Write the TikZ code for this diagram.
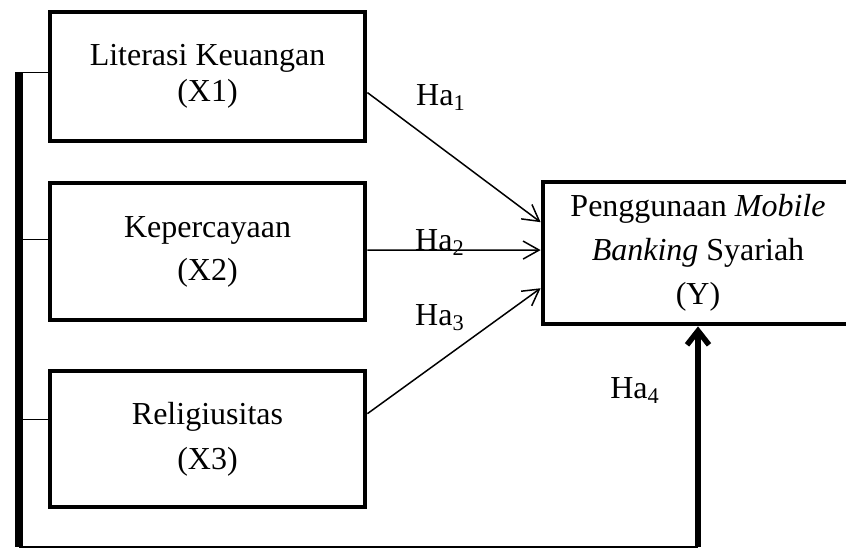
\documentclass[tikz,border=0pt]{standalone}
\usepackage{fontspec}
\setmainfont{Liberation Serif}
\usetikzlibrary{arrows.meta,calc}

\begin{document}
\begin{tikzpicture}[x=0.5pt,y=-0.5pt,
    hyp/.style={line width=0.75pt,-{Straight Barb[length=8pt,width=9pt]}}]
  \useasboundingbox (0,0) rectangle (846,548);

      \begin{scope}[every node/.style={draw,line width=2.4pt,align=center,inner sep=0pt}]
        \node[minimum width=157.5pt,minimum height=64.5pt,font=\fontsize{16}{18}\selectfont]
          (x1) at (207.5,76.5) {Literasi Keuangan\\(X1)};
        \node[minimum width=157.5pt,minimum height=68.5pt,font=\fontsize{16}{21.5}\selectfont]
          (x2) at (207.5,251.5) {Kepercayaan\\(X2)};
        \node[minimum width=157.5pt,minimum height=68pt,font=\fontsize{16}{22.5}\selectfont]
          (x3) at (207.5,439) {Religiusitas\\(X3)};
        \node[minimum width=155pt,minimum height=71pt,font=\fontsize{16}{22}\selectfont]
          (y) at (698,253) {Penggunaan \textit{Mobile}\\\textit{Banking} Syariah\\(Y)};
      \end{scope}

      \begin{scope}[every node/.style={anchor=base,font=\fontsize{16}{18}\selectfont}]
        \node (ha1) at (441,105) {Ha\textsubscript{1}};
        \node (ha2) at (440,250) {Ha\textsubscript{2}};
        \node (ha3) at (440,325) {Ha\textsubscript{3}};
        \node (ha4) at (635,398) {Ha\textsubscript{4}};
      \end{scope}

      \coordinate (b1) at (19,72);
      \coordinate (b2) at (19,239);
      \coordinate (b3) at (19,419);
      \coordinate (bot) at (19,547);

      % left bus
      \draw[line width=4pt] (b1) -- (bot);
      \draw[line width=0.5pt] (b1) -- (b1 -| x1.west);
      \draw[line width=0.5pt] (b2) -- (b2 -| x2.west);
      \draw[line width=0.5pt] (b3) -- (b3 -| x3.west);
      \draw[line width=1pt] (bot) -- (bot -| y.south);
      \draw[line width=2.75pt,-{Straight Barb[length=7pt,width=11pt]}] (bot -| y.south) -- (y.south);

      % hypotheses
      \draw[hyp] ($(x1.north east)!0.62!(x1.south east)$) -- ($(y.north west)!0.29!(y.south west)$);
      \draw[hyp] ($(x2.north east)!0.49!(x2.south east)$) -- ($(y.north west)!0.48!(y.south west)$);
      \draw[hyp] ($(x3.north east)!0.32!(x3.south east)$) -- ($(y.north west)!0.74!(y.south west)$);

    \end{tikzpicture}
\end{document}
